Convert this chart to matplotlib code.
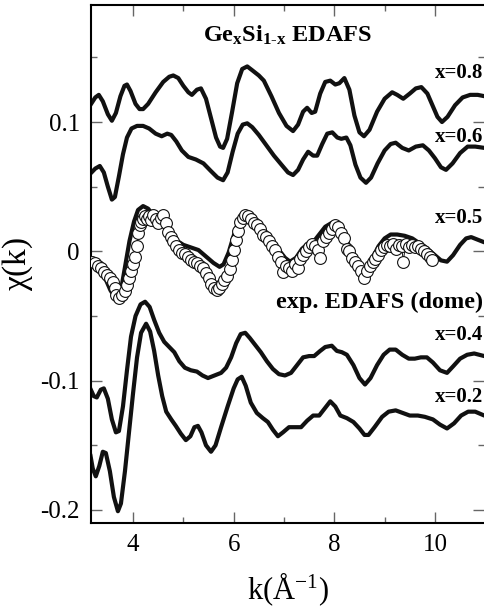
import numpy as np
import matplotlib
matplotlib.use("Agg")
import matplotlib.pyplot as plt
from matplotlib.ticker import FixedLocator

plt.rcParams['font.family'] = ['Liberation Serif', 'DejaVu Serif']
plt.rcParams['mathtext.fontset'] = 'custom'
plt.rcParams['mathtext.rm'] = 'Liberation Serif'
plt.rcParams['mathtext.it'] = 'Liberation Serif'
plt.rcParams['mathtext.bf'] = 'Liberation Serif:bold'
plt.rcParams['axes.unicode_minus'] = False

# ---- theory curves chi(k) for GexSi1-x ----
k_08 = [3.15, 3.25, 3.32, 3.40, 3.50, 3.58, 3.66, 3.75, 3.83, 3.88, 3.95, 4.05, 4.13, 4.20,
        4.30, 4.45, 4.60, 4.72, 4.80, 4.90, 5.00, 5.10, 5.17, 5.27, 5.35, 5.45, 5.55, 5.65,
        5.73, 5.79, 5.87, 5.97, 6.07, 6.17, 6.27, 6.37, 6.50, 6.60, 6.75, 6.90, 7.05, 7.18,
        7.28, 7.38, 7.46, 7.55, 7.62, 7.72, 7.82, 7.92, 8.02, 8.10, 8.20, 8.30, 8.40, 8.50,
        8.59, 8.70, 8.85, 9.00, 9.15, 9.25, 9.37, 9.50, 9.62, 9.73, 9.85, 9.95, 10.05, 10.14,
        10.25, 10.40, 10.55, 10.70, 10.85, 10.98]
chi_08 = [0.113, 0.119, 0.121, 0.116, 0.106, 0.101, 0.107, 0.120, 0.128, 0.129, 0.124, 0.114,
          0.110, 0.110, 0.114, 0.123, 0.131, 0.135, 0.136, 0.134, 0.128, 0.123, 0.121, 0.125,
          0.126, 0.118, 0.103, 0.088, 0.081, 0.080, 0.087, 0.108, 0.130, 0.141, 0.143, 0.140,
          0.136, 0.132, 0.120, 0.107, 0.097, 0.093, 0.098, 0.108, 0.111, 0.107, 0.108, 0.122,
          0.131, 0.132, 0.129, 0.130, 0.134, 0.125, 0.105, 0.092, 0.089, 0.094, 0.108, 0.118,
          0.123, 0.121, 0.118, 0.122, 0.126, 0.127, 0.122, 0.113, 0.104, 0.100, 0.104, 0.113,
          0.119, 0.121, 0.121, 0.120]

k_06 = [3.15, 3.25, 3.34, 3.42, 3.50, 3.58, 3.64, 3.72, 3.80, 3.88, 3.97, 4.08, 4.20, 4.32,
        4.45, 4.57, 4.68, 4.76, 4.86, 4.97, 5.10, 5.25, 5.40, 5.55, 5.68, 5.79, 5.88, 5.98,
        6.08, 6.18, 6.27, 6.37, 6.50, 6.65, 6.80, 6.95, 7.08, 7.18, 7.28, 7.38, 7.48, 7.58,
        7.66, 7.76, 7.86, 7.96, 8.06, 8.14, 8.24, 8.32, 8.42, 8.52, 8.63, 8.73, 8.86, 9.00,
        9.12, 9.22, 9.35, 9.48, 9.62, 9.76, 9.88, 10.00, 10.12, 10.22, 10.35, 10.50, 10.65,
        10.80, 10.98]
chi_06 = [0.060, 0.064, 0.066, 0.061, 0.050, 0.040, 0.042, 0.058, 0.075, 0.088, 0.095, 0.097,
          0.097, 0.095, 0.091, 0.089, 0.091, 0.090, 0.085, 0.078, 0.073, 0.071, 0.068, 0.062,
          0.057, 0.055, 0.061, 0.077, 0.091, 0.098, 0.099, 0.096, 0.090, 0.082, 0.074, 0.067,
          0.061, 0.059, 0.063, 0.071, 0.077, 0.074, 0.074, 0.083, 0.091, 0.092, 0.088, 0.087,
          0.088, 0.082, 0.067, 0.057, 0.053, 0.057, 0.068, 0.078, 0.083, 0.084, 0.080, 0.078,
          0.081, 0.082, 0.078, 0.072, 0.065, 0.063, 0.068, 0.076, 0.081, 0.081, 0.080]

k_05 = [3.15, 3.25, 3.35, 3.45, 3.55, 3.63, 3.70, 3.77, 3.85, 3.93, 4.02, 4.10, 4.20, 4.30,
        4.40, 4.50, 4.62, 4.75, 4.88, 5.00, 5.15, 5.30, 5.45, 5.60, 5.72, 5.80, 5.90, 6.00,
        6.10, 6.20, 6.30, 6.45, 6.60, 6.75, 6.90, 7.02, 7.12, 7.24, 7.36, 7.48, 7.58, 7.70,
        7.82, 7.95, 8.05, 8.15, 8.25, 8.37, 8.48, 8.58, 8.66, 8.76, 8.88, 9.00, 9.12, 9.25,
        9.40, 9.55, 9.70, 9.85, 10.00, 10.12, 10.24, 10.36, 10.50, 10.62, 10.72, 10.85, 10.98]
chi_05 = [-0.006, -0.010, -0.015, -0.021, -0.030, -0.035, -0.036, -0.028, -0.010, 0.008, 0.023,
          0.032, 0.035, 0.033, 0.028, 0.024, 0.019, 0.013, 0.008, 0.005, 0.003, 0.001, -0.004,
          -0.009, -0.012, -0.010, -0.001, 0.012, 0.024, 0.029, 0.027, 0.022, 0.016, 0.008,
          0.001, -0.005, -0.008, -0.005, 0.002, 0.006, 0.007, 0.013, 0.019, 0.022, 0.020,
          0.015, 0.008, -0.002, -0.009, -0.013, -0.012, -0.005, 0.004, 0.010, 0.013, 0.013,
          0.012, 0.010, 0.006, 0.002, -0.003, -0.007, -0.008, -0.003, 0.005, 0.010, 0.011,
          0.009, 0.007]

k_04 = [3.15, 3.22, 3.28, 3.36, 3.42, 3.50, 3.58, 3.66, 3.72, 3.80, 3.88, 3.96, 4.05, 4.15,
        4.24, 4.33, 4.42, 4.52, 4.62, 4.72, 4.82, 4.92, 5.03, 5.15, 5.27, 5.38, 5.49, 5.62,
        5.75, 5.85, 5.95, 6.05, 6.14, 6.23, 6.32, 6.42, 6.54, 6.66, 6.78, 6.90, 7.02, 7.14,
        7.26, 7.38, 7.50, 7.60, 7.72, 7.82, 7.95, 8.05, 8.15, 8.25, 8.38, 8.50, 8.61, 8.72,
        8.85, 8.98, 9.10, 9.22, 9.35, 9.48, 9.60, 9.72, 9.84, 9.96, 10.10, 10.24, 10.36,
        10.50, 10.64, 10.78, 10.98]
chi_04 = [-0.106, -0.112, -0.113, -0.107, -0.106, -0.114, -0.130, -0.140, -0.139, -0.120,
          -0.092, -0.066, -0.050, -0.041, -0.039, -0.043, -0.053, -0.063, -0.070, -0.074,
          -0.078, -0.085, -0.090, -0.092, -0.093, -0.096, -0.098, -0.096, -0.094, -0.090,
          -0.082, -0.071, -0.064, -0.063, -0.067, -0.072, -0.078, -0.085, -0.091, -0.095,
          -0.096, -0.094, -0.088, -0.082, -0.081, -0.081, -0.077, -0.074, -0.073, -0.077,
          -0.078, -0.080, -0.088, -0.098, -0.103, -0.098, -0.088, -0.080, -0.076, -0.076,
          -0.080, -0.083, -0.083, -0.082, -0.082, -0.086, -0.092, -0.094, -0.089, -0.083,
          -0.080, -0.079, -0.081]

k_02 = [3.15, 3.20, 3.26, 3.33, 3.40, 3.46, 3.54, 3.62, 3.70, 3.76, 3.84, 3.92, 4.00, 4.08,
        4.16, 4.26, 4.34, 4.42, 4.50, 4.58, 4.66, 4.76, 4.85, 4.95, 5.05, 5.14, 5.22, 5.29,
        5.36, 5.45, 5.55, 5.64, 5.75, 5.88, 6.00, 6.08, 6.16, 6.24, 6.34, 6.46, 6.58, 6.68,
        6.78, 6.88, 6.98, 7.10, 7.22, 7.34, 7.46, 7.58, 7.70, 7.80, 7.92, 8.02, 8.12, 8.25,
        8.38, 8.50, 8.60, 8.68, 8.80, 8.95, 9.08, 9.22, 9.36, 9.50, 9.66, 9.80, 9.96, 10.10,
        10.24, 10.38, 10.52, 10.66, 10.80, 10.98]
chi_02 = [-0.157, -0.168, -0.174, -0.166, -0.155, -0.156, -0.170, -0.190, -0.201, -0.195,
          -0.170, -0.140, -0.110, -0.082, -0.063, -0.056, -0.062, -0.077, -0.096, -0.112,
          -0.124, -0.130, -0.135, -0.141, -0.146, -0.143, -0.136, -0.135, -0.140, -0.150,
          -0.155, -0.150, -0.136, -0.120, -0.106, -0.099, -0.097, -0.104, -0.117, -0.125,
          -0.129, -0.132, -0.138, -0.143, -0.140, -0.136, -0.136, -0.136, -0.131, -0.127,
          -0.127, -0.122, -0.116, -0.120, -0.127, -0.129, -0.132, -0.137, -0.142, -0.142,
          -0.136, -0.128, -0.124, -0.123, -0.125, -0.127, -0.127, -0.128, -0.130, -0.134,
          -0.137, -0.133, -0.127, -0.124, -0.124, -0.127]

# ---- experimental EDAFS (dome), open circles ----
k_exp = [3.18, 3.24, 3.30, 3.36, 3.42, 3.48, 3.54, 3.60, 3.64, 3.67, 3.72, 3.78, 3.84, 3.88,
         3.93, 3.96, 4.00, 4.04, 4.08, 4.10, 4.13, 4.16, 4.20, 4.24, 4.28, 4.32, 4.36, 4.40,
         4.45, 4.50, 4.55, 4.60, 4.65, 4.70, 4.75, 4.80, 4.86, 4.92, 4.98, 5.04, 5.10, 5.16,
         5.22, 5.28, 5.34, 5.40, 5.46, 5.51, 5.55, 5.60, 5.66, 5.71, 5.76, 5.81, 5.86, 5.92,
         5.96, 6.01, 6.05, 6.09, 6.13, 6.18, 6.23, 6.28, 6.34, 6.40, 6.46, 6.52, 6.58, 6.64,
         6.70, 6.76, 6.82, 6.88, 6.94, 6.98, 7.04, 7.10, 7.16, 7.22, 7.28, 7.32, 7.38, 7.44,
         7.50, 7.56, 7.62, 7.68, 7.72, 7.78, 7.84, 7.90, 7.96, 8.02, 8.08, 8.14, 8.19, 8.25,
         8.30, 8.36, 8.42, 8.48, 8.54, 8.60, 8.65, 8.70, 8.76, 8.81, 8.86, 8.92, 8.98, 9.04,
         9.10, 9.16, 9.22, 9.28, 9.34, 9.37, 9.42, 9.48, 9.54, 9.60, 9.66, 9.72, 9.78, 9.84,
         9.90, 9.94]
chi_exp = [-0.008, -0.009, -0.011, -0.013, -0.016, -0.018, -0.021, -0.024, -0.028, -0.034,
           -0.036, -0.034, -0.031, -0.026, -0.021, -0.015, -0.010, -0.004, 0.004, 0.014, 0.020,
           0.023, 0.025, 0.027, 0.025, 0.027, 0.024, 0.028, 0.025, 0.022, 0.026, 0.028, 0.022,
           0.015, 0.011, 0.008, 0.004, 0.001, -0.001, -0.002, -0.004, -0.007, -0.008, -0.009,
           -0.011, -0.013, -0.017, -0.021, -0.025, -0.028, -0.030, -0.028, -0.025, -0.022,
           -0.019, -0.014, -0.007, 0.001, 0.009, 0.016, 0.023, 0.026, 0.028, 0.027, 0.025,
           0.022, 0.020, 0.017, 0.013, 0.011, 0.008, 0.004, 0.001, -0.004, -0.008, -0.016,
           -0.011, -0.013, -0.015, -0.010, -0.013, -0.006, -0.003, 0.000, 0.003, 0.006, 0.004,
           0.001, -0.005, 0.008, 0.011, 0.014, 0.017, 0.020, 0.019, 0.014, 0.010, 0.002, 0.000,
           -0.005, -0.008, -0.011, -0.015, -0.021, -0.015, -0.011, -0.008, -0.006, -0.003,
           0.001, 0.003, 0.005, 0.004, 0.006, 0.002, 0.005, 0.004, -0.008, 0.006, 0.003, 0.005,
           0.003, 0.004, 0.002, 0.000, -0.002, -0.004, -0.007]

curve_labels = ["x=0.8", "x=0.6", "x=0.5", "exp. EDAFS (dome)", "x=0.4", "x=0.2"]
label_y = [0.1338, 0.0848, 0.0217, -0.0442, -0.0686, -0.1163]
label_size = [15, 15, 15, 17.5, 15, 15]

fig = plt.figure(figsize=(4.84, 6.10), dpi=100)
ax = fig.add_axes([91 / 484, 1 - 523 / 610, 1 - 91 / 484, (523 - 5) / 610])

line_kw = dict(color='#111111', lw=3.0, solid_joinstyle='round', solid_capstyle='round')
for k, chi in [(k_08, chi_08), (k_06, chi_06), (k_05, chi_05), (k_04, chi_04), (k_02, chi_02)]:
    ax.plot(k, chi, zorder=2, **line_kw)

ax.plot(k_exp, chi_exp, color='#111111', lw=0.7, marker='o', ms=8.5, mfc='white',
        mec='#111111', mew=0.8, zorder=3)

for txt, y, fs in zip(curve_labels, label_y, label_size):
    ax.text(0.997, y, txt, transform=ax.get_yaxis_transform(), ha='right', va='baseline',
            fontsize=fs, fontweight='bold', zorder=4)

ax.text(7.08, 0.162, r'$\mathbf{Ge_x Si_{1\text{-}x}}$ EDAFS', ha='center', va='baseline',
        fontsize=17.5, fontweight='bold')

ax.set_xlim(3.165, 10.975)
ax.set_ylim(-0.2101, 0.1905)
ax.xaxis.set_major_locator(FixedLocator([4, 6, 8, 10]))
ax.xaxis.set_minor_locator(FixedLocator([5, 7, 9, 11]))
ax.yaxis.set_major_locator(FixedLocator([-0.2, -0.1, 0, 0.1]))
ax.yaxis.set_minor_locator(FixedLocator([-0.15, -0.05, 0.05, 0.15]))
ax.set_xticklabels(['4', '6', '8', '10'])
ax.set_yticklabels(['-0.2', '-0.1', '0', '0.1'])
ax.tick_params(which='both', direction='in', top=True, right=True, labelsize=18,
               width=1.0, color='#666666')
ax.tick_params(which='major', length=8, pad=8)
ax.tick_params(which='minor', length=4.5)
for side in ['left', 'bottom', 'top']:
    ax.spines[side].set_linewidth(1.5)
ax.spines['right'].set_visible(False)

ax.set_xlabel(r'k(Å$^{-1}$)', fontsize=22, labelpad=10)
ax.set_ylabel(r'$\chi$(k)', fontsize=24, labelpad=4)

fig.savefig('out.png', dpi=100)
